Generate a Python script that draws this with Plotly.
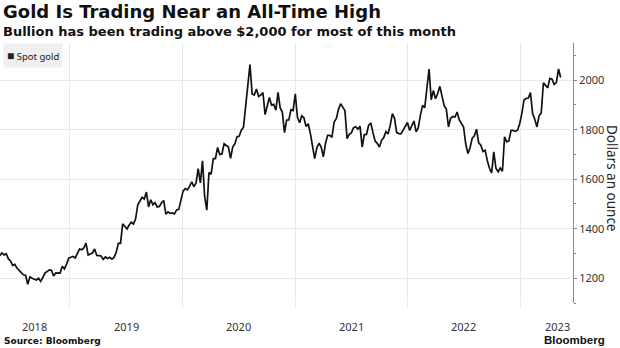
import pandas as pd
import plotly.graph_objects as go

# ---- data (weekly spot gold, USD/oz) ----
gold_2018 = [1291, 1302, 1294, 1299, 1279, 1270, 1252, 1256, 1241, 1230, 1223, 1214, 1212, 1176,
             1206, 1200, 1197, 1193, 1200, 1187, 1203, 1221, 1227, 1234, 1232, 1209, 1222, 1223,
             1221, 1248, 1238, 1257, 1281]
gold_2019 = [1285, 1288, 1282, 1304, 1318, 1315, 1322, 1342, 1294, 1298, 1302, 1318, 1292, 1291,
             1290, 1276, 1286, 1280, 1285, 1277, 1284, 1305, 1341, 1341, 1420, 1409, 1399, 1415,
             1426, 1419, 1440, 1497, 1513, 1527, 1520, 1548, 1488, 1517, 1497, 1505, 1488, 1490,
             1505, 1514, 1459, 1468, 1462, 1464, 1460, 1476, 1478, 1511]
gold_2020 = [1552, 1562, 1557, 1571, 1589, 1570, 1584, 1643, 1585, 1674, 1530, 1475, 1627, 1620,
             1683, 1683, 1728, 1700, 1702, 1743, 1735, 1730, 1684, 1730, 1743, 1771, 1774, 1798,
             1810, 1902, 1975, 2063, 1944, 1940, 1964, 1934, 1940, 1950, 1861, 1900, 1930, 1899,
             1902, 1879, 1951, 1888, 1871, 1788, 1839, 1839, 1881, 1877]
gold_2021 = [1945, 1850, 1828, 1856, 1848, 1813, 1824, 1784, 1734, 1683, 1727, 1745, 1730, 1690,
             1744, 1777, 1777, 1769, 1831, 1844, 1881, 1905, 1891, 1877, 1764, 1781, 1787, 1808,
             1812, 1802, 1814, 1730, 1780, 1781, 1818, 1827, 1788, 1754, 1745, 1730, 1757, 1768,
             1792, 1783, 1818, 1865, 1846, 1788, 1784, 1783, 1798, 1811, 1829]
gold_2022 = [1797, 1818, 1835, 1791, 1808, 1859, 1898, 1889, 1966, 2045, 1921, 1958, 1925, 1946,
             1975, 1931, 1897, 1883, 1811, 1846, 1853, 1851, 1871, 1839, 1826, 1811, 1742, 1703,
             1727, 1766, 1775, 1802, 1747, 1737, 1712, 1717, 1675, 1644, 1625, 1710, 1644, 1630,
             1645, 1632, 1771, 1751, 1755, 1797, 1797, 1793, 1798, 1824]
gold_2023 = [1865, 1920, 1926, 1928, 1950, 1865, 1842, 1811, 1856, 1868, 1989, 1978, 1969, 2007,
             2004, 1983, 1990, 2045, 2011]
first_friday = {2018: "2018-05-18", 2019: "2019-01-04", 2020: "2020-01-03",
                2021: "2021-01-01", 2022: "2022-01-07", 2023: "2023-01-06"}
series = {2018: gold_2018, 2019: gold_2019, 2020: gold_2020,
          2021: gold_2021, 2022: gold_2022, 2023: gold_2023}

year_labels = ["2018", "2019", "2020", "2021", "2022", "2023"]
year_label_dates = ["2018-09-09", "2019-07-02", "2020-07-02", "2021-07-02", "2022-07-02", "2023-05-01"]
year_grid = ["2019-01-01", "2020-01-01", "2021-01-01", "2022-01-01", "2023-01-01"]
y_ticks = [1200, 1400, 1600, 1800, 2000]

dates, values = [], []
for yr in sorted(series):
    d = pd.date_range(first_friday[yr], periods=len(series[yr]), freq="7D")
    dates.extend(d)
    values.extend(series[yr])

# ---- layout geometry ----
W, H = 620, 348
PT, PB, PR = 43, 303, 573


def py(p):  # pixel y -> paper y
    return (PB - p) / (PB - PT)


def px(p):  # pixel x -> paper x
    return p / PR


TXT = "#111111"
fig = go.Figure()
fig.add_trace(go.Scatter(x=dates, y=values, mode="lines",
                         line=dict(color="#111111", width=1.7), showlegend=False,
                         hoverinfo="skip"))

fig.update_layout(
    width=W, height=H,
    margin=dict(l=0, r=W - PR, t=PT, b=H - PB, autoexpand=False),
    paper_bgcolor="white", plot_bgcolor="white",
    showlegend=False,
    xaxis=dict(range=["2018-05-19", "2023-06-21"], tickvals=year_grid,
               showticklabels=False, showgrid=True, gridcolor="#e9e9e9", gridwidth=1,
               ticks="outside", ticklen=4, tickcolor="#e9e9e9", zeroline=False,
               showline=False, fixedrange=True),
    yaxis=dict(range=[1100, 2150], side="right", tickvals=y_ticks,
               showgrid=True, gridcolor="#e9e9e9", gridwidth=1, zeroline=False,
               showline=True, linecolor="#8a8a8a", linewidth=1,
               ticks="outside", ticklen=3, tickcolor="#8a8a8a",
               minor=dict(dtick=100, tick0=1100, ticks="outside", ticklen=2, tickcolor="#8a8a8a",
                          showgrid=False),
               tickfont=dict(family="Noto Sans", size=11, color="#333333"),
               fixedrange=True),
)

ann = []
ann.append(dict(text="<b>Gold Is Trading Near an All-Time High</b>", x=px(1), y=py(12),
                xref="paper", yref="paper", xanchor="left", yanchor="middle", showarrow=False,
                font=dict(family="DejaVu Sans", size=18, color=TXT)))
ann.append(dict(text="<b>Bullion has been trading above $2,000 for most of this month</b>",
                x=px(1), y=py(32), xref="paper", yref="paper", xanchor="left", yanchor="middle",
                showarrow=False, font=dict(family="DejaVu Sans", size=13, color=TXT)))
ann.append(dict(text="<b>Source: Bloomberg</b>", x=px(2), y=py(341), xref="paper", yref="paper",
                xanchor="left", yanchor="middle", showarrow=False,
                font=dict(family="DejaVu Sans", size=9, color=TXT)))
ann.append(dict(text="<b>Bloomberg</b>", x=px(542), y=py(340), xref="paper", yref="paper",
                xanchor="left", yanchor="middle", showarrow=False,
                font=dict(family="Liberation Sans", size=11.5, color=TXT)))
ann.append(dict(text="<span style='font-size:12px'>■</span> Spot gold", x=px(3), y=py(43),
                xref="paper", yref="paper",
                xanchor="left", yanchor="top", showarrow=False, bgcolor="#efefef",
                borderpad=3, font=dict(family="Noto Sans", size=9.5, color="#222222")))
ann.append(dict(text="Dollars an ounce", x=px(612), y=py(178), xref="paper", yref="paper",
                xanchor="center", yanchor="middle", textangle=90, showarrow=False,
                font=dict(family="Noto Sans", size=13.5, color="#222222")))
for lab, d in zip(year_labels, year_label_dates):
    ann.append(dict(text=lab, x=d, y=py(326), xref="x", yref="paper", xanchor="center",
                    yanchor="middle", showarrow=False,
                    font=dict(family="Noto Sans", size=11, color="#333333")))
fig.update_layout(annotations=ann)

fig.write_html("out.html", config={"displayModeBar": False, "staticPlot": True})
